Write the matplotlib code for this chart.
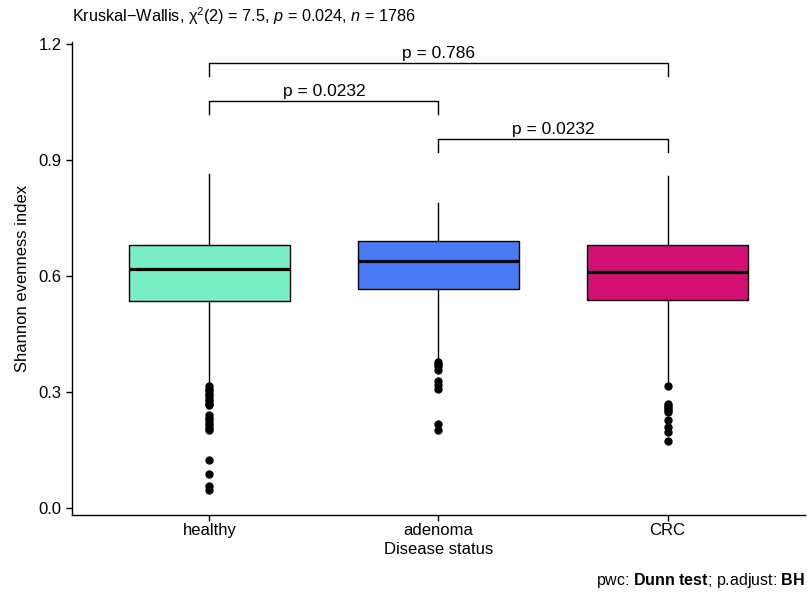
import matplotlib
matplotlib.use("Agg")
import matplotlib.pyplot as plt

plt.rcParams['font.family'] = ['Liberation Sans', 'DejaVu Sans']
plt.rcParams['mathtext.fontset'] = 'custom'
plt.rcParams['mathtext.rm'] = 'Liberation Sans'
plt.rcParams['mathtext.it'] = 'Liberation Sans:italic'
plt.rcParams['mathtext.bf'] = 'Liberation Sans:bold'

# Groups and box summaries (Shannon evenness)
groups = ['healthy', 'adenoma', 'CRC']
colors = ['#7AEEC4', '#4B7BF6', '#D20F72']
q1 = [0.535, 0.566, 0.538]
med = [0.618, 0.639, 0.610]
q3 = [0.680, 0.690, 0.680]
whis_lo = [0.323, 0.388, 0.323]
whis_hi = [0.864, 0.789, 0.859]
outliers = [
    [0.315, 0.309, 0.302, 0.296, 0.290, 0.283, 0.277, 0.270, 0.266,
     0.240, 0.234, 0.228, 0.221, 0.215, 0.208, 0.202, 0.124, 0.088, 0.057, 0.047],
    [0.378, 0.372, 0.367, 0.357, 0.328, 0.318, 0.308, 0.217, 0.202],
    [0.315, 0.269, 0.264, 0.259, 0.253, 0.248, 0.228, 0.209, 0.197, 0.173],
]

# Pairwise comparisons (Dunn test, BH adjusted)
pairs = [(1, 3), (1, 2), (2, 3)]
pair_labels = ['p = 0.786', 'p = 0.0232', 'p = 0.0232']
pair_y = [1.151, 1.052, 0.954]
tip = 0.034

fig = plt.figure(figsize=(8.07, 5.92), dpi=100)
ax = fig.add_axes([72 / 807, 1 - 515 / 592, 733 / 807, 473 / 592])

stats = []
for i, g in enumerate(groups):
    stats.append(dict(label=g, q1=q1[i], med=med[i], q3=q3[i],
                      whislo=whis_lo[i], whishi=whis_hi[i], fliers=outliers[i]))

bp = ax.bxp(stats, positions=[1, 2, 3], widths=0.7, patch_artist=True,
            showcaps=False,
            boxprops=dict(edgecolor='black', linewidth=1.0),
            medianprops=dict(color='black', linewidth=2.3),
            whiskerprops=dict(color='black', linewidth=1.0),
            flierprops=dict(marker='o', markerfacecolor='black',
                            markeredgecolor='black', markersize=5))
for patch, c in zip(bp['boxes'], colors):
    patch.set_facecolor(c)

for (a, b), lab, y in zip(pairs, pair_labels, pair_y):
    ax.plot([a, a, b, b], [y - tip, y, y, y - tip], color='black', lw=1.0)
    ax.text((a + b) / 2, y + 0.006, lab, ha='center', va='bottom', fontsize=12.5)

ax.set_xlim(0.4, 3.6)
ax.set_ylim(-0.018, 1.205)
ax.set_yticks([0.0, 0.3, 0.6, 0.9, 1.2])
ax.set_yticklabels(['0.0', '0.3', '0.6', '0.9', '1.2'])
ax.set_xticks([1, 2, 3])
ax.set_xticklabels(groups)
ax.tick_params(labelsize=12, length=4, width=1.0, colors='black')
ax.tick_params(axis='x', pad=2)
for side in ['top', 'right']:
    ax.spines[side].set_visible(False)
for side in ['left', 'bottom']:
    ax.spines[side].set_linewidth(1.0)

ax.set_xlabel('Disease status', fontsize=12, labelpad=3)
ax.set_ylabel('Shannon evenness index', fontsize=12, labelpad=6)

fig.text(72 / 807, 1 - 16 / 592,
         'Kruskal\u2212Wallis, $\\mathrm{\u03c7}^{2}$(2) = 7.5, $p$ = 0.024, $n$ = 1786',
         ha='left', va='center', fontsize=11.7)
fig.text(805 / 807, 1 - 580 / 592,
         r'pwc: $\mathbf{Dunn\ test}$; p.adjust: $\mathbf{BH}$',
         ha='right', va='center', fontsize=11.5)

fig.savefig('out.png', dpi=100)
